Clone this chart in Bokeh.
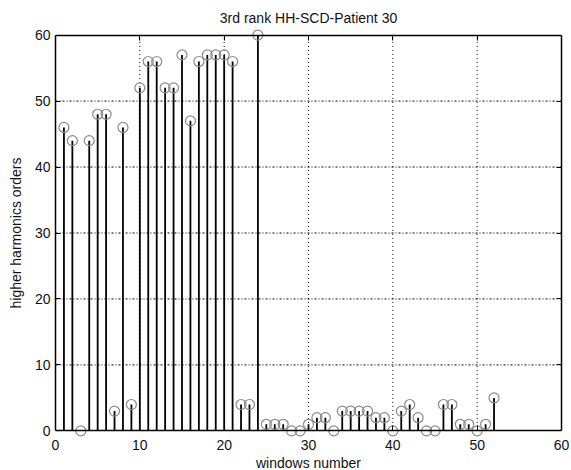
from bokeh.plotting import figure
from bokeh.models import FixedTicker, LinearAxis, Range1d, ColumnDataSource
from bokeh.embed import file_html
from bokeh.resources import INLINE

# Harmonic order found in each analysis window
windows = list(range(1, 53))
orders = [46, 44, 0, 44, 48, 48, 3, 46, 4, 52,
          56, 56, 52, 52, 57, 47, 56, 57, 57, 57,
          56, 4, 4, 60, 1, 1, 1, 0, 0, 1,
          2, 2, 0, 3, 3, 3, 3, 2, 2, 0,
          3, 4, 2, 0, 0, 4, 4, 1, 1, 0,
          1, 5]
x_ticks = [0, 10, 20, 30, 40, 50, 60]
y_ticks = [0, 10, 20, 30, 40, 50, 60]

title_text = "3rd rank HH-SCD-Patient 30"
x_label = "windows number"
y_label = "higher harmonics orders"

FONT = "Liberation Sans"
FSIZE = "14px"

x_lo, x_hi = x_ticks[0], x_ticks[-1]
y_lo, y_hi = y_ticks[0], y_ticks[-1]

src = ColumnDataSource(dict(x=windows, y=orders, base=[y_lo] * len(orders)))

# the y range gets one unit of slack on each side so that the
# circles sitting on 0 and 60 are drawn whole; the box itself is
# drawn by axes pinned at the data limits
p = figure(
    frame_width=506, frame_height=409,
    x_range=Range1d(x_lo, x_hi), y_range=Range1d(y_lo - 1, y_hi + 1),
    output_backend="svg", toolbar_location=None,
    title=title_text,
    min_border_left=55, min_border_right=10,
    min_border_top=28, min_border_bottom=33,
    background_fill_color="white", border_fill_color="white",
    outline_line_color=None,
)

p.title.align = "center"
p.title.text_font = FONT
p.title.text_font_size = FSIZE
p.title.text_font_style = "normal"
p.title.text_color = "#111111"
p.title.standoff = 6

top_box = LinearAxis(fixed_location=y_hi)
bottom_box = LinearAxis(fixed_location=y_lo)
p.add_layout(top_box, "above")
p.add_layout(LinearAxis(), "right")
p.add_layout(bottom_box, "below")

for ax in p.axis:
    ax.axis_line_color = "black"
    ax.axis_line_width = 1.5
    ax.major_tick_in = 5
    ax.major_tick_out = 0
    ax.major_tick_line_color = "black"
    ax.major_tick_line_width = 1
    ax.minor_tick_line_color = None
    ax.major_label_text_font = FONT
    ax.major_label_text_font_size = FSIZE
    ax.major_label_text_color = "#111111"
    ax.axis_label_text_font = FONT
    ax.axis_label_text_font_size = FSIZE
    ax.axis_label_text_font_style = "normal"
    ax.axis_label_text_color = "#111111"

for ax in p.xaxis:
    ax.ticker = FixedTicker(ticks=x_ticks)
for ax in p.yaxis:
    ax.ticker = FixedTicker(ticks=y_ticks)
    ax.bounds = (y_lo, y_hi)

# line-and-tick-only axes
for ax in (top_box, bottom_box, p.right[-1]):
    ax.major_label_text_color = None
    ax.major_label_text_font_size = "1px"
    ax.major_label_standoff = 0

# bottom axis carrying only the tick labels and the axis title
xlab = p.below[0]
xlab.axis_line_color = None
xlab.major_tick_line_color = None
xlab.major_tick_in = 0
xlab.major_label_standoff = 2
xlab.axis_label = x_label
xlab.axis_label_standoff = 2

p.left[0].axis_label = y_label
p.left[0].major_label_standoff = 5
p.left[0].axis_label_standoff = 8

# dotted grid inside the box
p.grid.visible = False
inner_x = x_ticks[1:-1]
inner_y = y_ticks[1:-1]
p.segment(x0=inner_x, y0=[y_lo] * len(inner_x), x1=inner_x, y1=[y_hi] * len(inner_x),
          line_color="black", line_width=1, line_dash="1 3")
p.segment(x0=[x_lo] * len(inner_y), y0=inner_y, x1=[x_hi] * len(inner_y), y1=inner_y,
          line_color="black", line_width=1, line_dash="2 2 1 2")

# stems from zero up to each value
p.segment(x0="x", y0="base", x1="x", y1="y", source=src,
          line_color="black", line_width=1.8)
# open circle at the head of each stem
p.scatter(x="x", y="y", source=src, marker="circle", size=10,
          fill_color=None, line_color="#8a8a8a", line_width=1.2)

open("out.html", "w").write(file_html(p, INLINE))
